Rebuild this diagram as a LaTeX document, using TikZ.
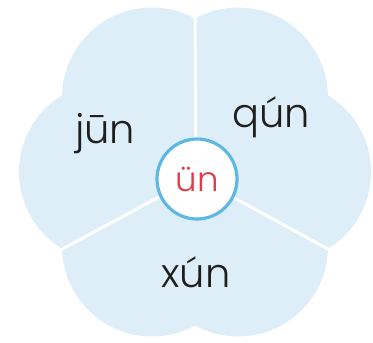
\documentclass[tikz,border=0pt]{standalone}
\usepackage{fontspec}
\setmainfont{Poppins}[UprightFont=* Light]
\definecolor{petal}{RGB}{221,238,248}
\definecolor{ring}{RGB}{95,184,226}
\definecolor{hubred}{RGB}{222,58,72}
\definecolor{ink}{RGB}{30,30,30}
\tikzset{
  lobe/.style={fill=petal, draw=none},
  divider/.style={draw=white, line width=3pt},
  hubstyle/.style={circle, fill=white, draw=ring, line width=3.2pt, minimum size=80pt, inner sep=0pt},
  syl/.style={anchor=base, text=ink, font=\fontsize{40}{42}\selectfont},
  hubtext/.style={anchor=base, text=hubred, font=\fontsize{34}{36}\selectfont}
}
\begin{document}
\begin{tikzpicture}[x=1pt, y=-1pt]
\useasboundingbox (0,0) rectangle (373,343);
% flower lobes
\foreach \a in {0,60,120,180,240,300} {
  \fill[lobe] ({195+86*cos(\a)},{172+86*sin(\a)}) circle (90);
}
\coordinate (c) at (196,177);
\coordinate (ntop) at (195,5);
\coordinate (nll) at (55,253);
\coordinate (nlr) at (337,254);
\draw[divider] (c) -- (ntop);
\draw[divider] (c) -- (nll);
\draw[divider] (c) -- (nlr);
\node[hubstyle] (hub) at (197,179) {};
\node[hubtext] (hubl) at (197,191) {ün};
\node[syl] (jun) at (105,143) {jūn};
\node[syl] (qun) at (271,127) {qún};
\node[syl] (xun) at (196,287) {xún};
\end{tikzpicture}
\end{document}
